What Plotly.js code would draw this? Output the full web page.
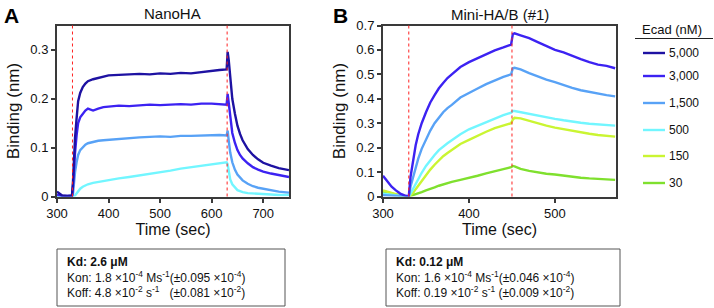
<!DOCTYPE html>
<html><head><meta charset="utf-8">
<script src="https://cdn.plot.ly/plotly-3.0.1.min.js"></script>
<style>html,body{margin:0;padding:0;background:#fff}#c{width:714px;height:308px}</style>
</head><body><div id="c"></div>
<script>
// ---- data ----
const seriesNames = ["5,000", "3,000", "1,500", "500", "150", "30"];
const seriesColors = ["#1e12a2", "#3c22f2", "#58a2f6", "#72f6ff", "#caf532", "#7fe02e"];

const eventsA = [330, 630];
const eventsB = [330, 450];

const tA = [300,310,320,329,331,333,335,338,341,345,350,355,360,370,380,390,400,420,440,460,480,500,520,540,560,580,600,615,629,631,633,636,640,645,650,655,660,670,680,690,700,715,730,750];
const A5000 = [0.010,0.002,0.001,0.002,0.030,0.080,0.120,0.160,0.195,0.212,0.224,0.231,0.236,0.240,0.243,0.245,0.248,0.249,0.250,0.251,0.250,0.252,0.251,0.253,0.252,0.255,0.257,0.259,0.260,0.296,0.280,0.240,0.200,0.170,0.145,0.128,0.115,0.097,0.085,0.076,0.069,0.063,0.058,0.054];
const A3000 = [0.004,0.001,0.001,0.001,0.020,0.060,0.090,0.125,0.150,0.162,0.170,0.176,0.180,0.176,0.180,0.183,0.184,0.186,0.185,0.187,0.188,0.187,0.188,0.189,0.188,0.190,0.190,0.189,0.188,0.210,0.190,0.160,0.130,0.110,0.095,0.085,0.078,0.068,0.060,0.055,0.051,0.047,0.044,0.040];
const A1500 = [0.000,0.000,0.000,0.000,0.005,0.030,0.050,0.070,0.085,0.095,0.101,0.106,0.109,0.112,0.114,0.115,0.116,0.118,0.119,0.121,0.122,0.123,0.122,0.124,0.124,0.125,0.125,0.126,0.125,0.135,0.115,0.090,0.070,0.055,0.045,0.038,0.033,0.026,0.021,0.018,0.016,0.013,0.010,0.008];
const A500 = [0.000,0.000,0.000,0.000,0.000,0.000,0.002,0.006,0.010,0.016,0.020,0.023,0.025,0.028,0.030,0.032,0.033,0.037,0.040,0.043,0.047,0.050,0.053,0.057,0.060,0.062,0.066,0.067,0.070,0.066,0.050,0.035,0.025,0.018,0.013,0.011,0.009,0.007,0.006,0.005,0.004,0.004,0.003,0.003];

const tB = [300,305,310,315,320,325,330,332,335,338,341,345,350,355,360,365,370,375,380,390,400,410,420,430,440,449,451,453,460,470,480,490,500,510,520,530,540,550,560,570];
const B3000 = [0.085,0.060,0.040,0.025,0.012,0.005,0.000,0.080,0.150,0.210,0.255,0.300,0.345,0.385,0.415,0.443,0.465,0.485,0.500,0.530,0.550,0.566,0.583,0.598,0.610,0.622,0.665,0.668,0.660,0.648,0.632,0.615,0.600,0.590,0.575,0.562,0.550,0.540,0.535,0.525];
const B1500 = [0.005,0.004,0.003,0.002,0.001,0.000,0.000,0.040,0.080,0.120,0.155,0.195,0.235,0.270,0.300,0.325,0.345,0.362,0.375,0.405,0.425,0.442,0.460,0.475,0.490,0.500,0.525,0.527,0.520,0.505,0.490,0.478,0.468,0.455,0.445,0.435,0.428,0.420,0.415,0.410];
const B500 = [0.012,0.009,0.006,0.004,0.002,0.001,0.000,0.012,0.032,0.052,0.072,0.097,0.125,0.150,0.170,0.190,0.205,0.218,0.230,0.255,0.275,0.290,0.305,0.320,0.333,0.343,0.350,0.350,0.345,0.338,0.330,0.325,0.318,0.312,0.306,0.302,0.298,0.295,0.292,0.290];
const B150 = [0.025,0.020,0.012,0.008,0.004,0.002,0.000,0.005,0.015,0.030,0.045,0.065,0.090,0.110,0.130,0.148,0.165,0.178,0.190,0.215,0.232,0.250,0.265,0.280,0.292,0.300,0.315,0.322,0.320,0.310,0.298,0.290,0.282,0.275,0.268,0.262,0.257,0.252,0.248,0.245];
const B30 = [0.020,0.018,0.012,0.008,0.004,0.002,0.000,0.002,0.005,0.010,0.013,0.018,0.025,0.030,0.037,0.044,0.050,0.055,0.060,0.068,0.075,0.085,0.095,0.105,0.112,0.120,0.125,0.123,0.113,0.105,0.098,0.093,0.090,0.085,0.080,0.077,0.074,0.072,0.069,0.068];

const ticksAx = [300,400,500,600,700];
const ticksBx = [300,400,500];

const titleA = "NanoHA";
const titleB = "Mini-HA/B (#1)";
const legendTitle = "Ecad (nM)";
const boxA = "<b>Kd: 2.6 μM</b><br>Kon: 1.8 ×10<sup>-4</sup> Ms<sup>-1</sup>(±0.095 ×10<sup>-4</sup>)<br>Koff: 4.8 ×10<sup>-2</sup> s<sup>-1</sup>\u00a0\u00a0\u00a0(±0.081 ×10<sup>-2</sup>)";
const boxB = "<b>Kd: 0.12 μM</b><br>Kon: 1.6 ×10<sup>-4</sup> Ms<sup>-1</sup>(±0.046 ×10<sup>-4</sup>)<br>Koff: 0.19 ×10<sup>-2</sup> s<sup>-1</sup> (±0.009 ×10<sup>-2</sup>)";

// ---- build ----
const W = 714, H = 308;
const px = v => v / W, py = v => 1 - v / H;
const FONT = "Liberation Sans, Arial, sans-serif";

function tr(x, y, ci, xa, ya) {
  return {x: x, y: y, type: "scatter", mode: "lines", xaxis: xa, yaxis: ya,
    line: {color: seriesColors[ci], width: 2.4}, showlegend: false, hoverinfo: "skip"};
}
const traces = [
  tr(tA, A500, 3, "x", "y"), tr(tA, A1500, 2, "x", "y"), tr(tA, A3000, 1, "x", "y"), tr(tA, A5000, 0, "x", "y"),
  tr(tB, B30, 5, "x2", "y2"), tr(tB, B150, 4, "x2", "y2"), tr(tB, B500, 3, "x2", "y2"), tr(tB, B1500, 2, "x2", "y2"), tr(tB, B3000, 1, "x2", "y2")
];

const axBase = {showline: true, mirror: true, linecolor: "#3a3a3a", linewidth: 2, ticks: "outside",
  ticklen: 4, tickwidth: 1.5, tickcolor: "#3a3a3a", showgrid: false, zeroline: false,
  tickfont: {family: FONT, size: 13, color: "#111"}};
const yDom = [py(196.5), py(25.5)];

const shapes = [];
eventsA.forEach(e => shapes.push({type: "line", xref: "x", yref: "y domain", x0: e, x1: e, y0: 0, y1: 1,
  line: {color: "#ff2020", width: 1, dash: "dot"}}));
eventsB.forEach(e => shapes.push({type: "line", xref: "x2", yref: "y2 domain", x0: e, x1: e, y0: 0, y1: 1,
  line: {color: "#ff2020", width: 1, dash: "dot"}}));
// stat boxes
shapes.push({type: "rect", xref: "paper", yref: "paper", x0: px(57), x1: px(285), y0: py(306), y1: py(249), line: {color: "#555", width: 1}});
shapes.push({type: "rect", xref: "paper", yref: "paper", x0: px(386), x1: px(620), y0: py(306), y1: py(249), line: {color: "#555", width: 1}});
// legend underline
shapes.push({type: "line", xref: "paper", yref: "paper", x0: px(635), x1: px(713), y0: py(38.5), y1: py(38.5), line: {color: "#222", width: 1.2}});

const annotations = [
  {text: "<b>A</b>", x: px(2), y: py(2), xanchor: "left", yanchor: "top", font: {family: FONT, size: 21, color: "#000"}},
  {text: "<b>B</b>", x: px(331), y: py(2), xanchor: "left", yanchor: "top", font: {family: FONT, size: 21, color: "#000"}},
  {text: titleA, x: px(172), y: py(13), xanchor: "center", yanchor: "middle", font: {family: FONT, size: 15, color: "#111"}},
  {text: titleB, x: px(500), y: py(15), xanchor: "center", yanchor: "middle", font: {family: FONT, size: 15, color: "#111"}},
  {text: legendTitle, x: px(672), y: py(30), xanchor: "center", yanchor: "middle", font: {family: FONT, size: 13, color: "#111"}},
  {text: boxA, x: px(65), y: py(277.5), xanchor: "left", yanchor: "middle", align: "left", font: {family: FONT, size: 12, color: "#111"}},
  {text: boxB, x: px(394), y: py(277.5), xanchor: "left", yanchor: "middle", align: "left", font: {family: FONT, size: 12, color: "#111"}}
];
const legendY = [53, 76, 103, 130, 156, 183];
seriesNames.forEach((n, i) => {
  shapes.push({type: "line", xref: "paper", yref: "paper", x0: px(643), x1: px(665), y0: py(legendY[i]), y1: py(legendY[i]),
    line: {color: seriesColors[i], width: 2.4}});
  annotations.push({text: n, x: px(667), y: py(legendY[i]), xanchor: "left", yanchor: "middle",
    font: {family: FONT, size: 12, color: "#111"}});
});
annotations.forEach(a => { a.xref = "paper"; a.yref = "paper"; a.showarrow = false; });

const layout = {
  width: W, height: H, margin: {l: 0, r: 0, t: 0, b: 0}, paper_bgcolor: "#fff", plot_bgcolor: "#fff",
  showlegend: false,
  xaxis: Object.assign({}, axBase, {domain: [px(57), px(289)], range: [300, 750], tickvals: ticksAx, anchor: "y",
    title: {text: "Time (sec)", font: {family: FONT, size: 16, color: "#111"}, standoff: 2}}),
  yaxis: Object.assign({}, axBase, {domain: yDom, range: [0, 0.35], dtick: 0.1, anchor: "x",
    title: {text: "Binding (nm)", font: {family: FONT, size: 17, color: "#111"}, standoff: 6}}),
  xaxis2: Object.assign({}, axBase, {domain: [px(383), px(616)], range: [300, 571], tickvals: ticksBx, anchor: "y2",
    title: {text: "Time (sec)", font: {family: FONT, size: 16, color: "#111"}, standoff: 2}}),
  yaxis2: Object.assign({}, axBase, {domain: yDom, range: [0, 0.7], dtick: 0.1, anchor: "x2",
    title: {text: "Binding (nm)", font: {family: FONT, size: 17, color: "#111"}, standoff: 6}}),
  shapes: shapes, annotations: annotations
};
Plotly.newPlot("c", traces, layout, {displayModeBar: false});
</script></body></html>
